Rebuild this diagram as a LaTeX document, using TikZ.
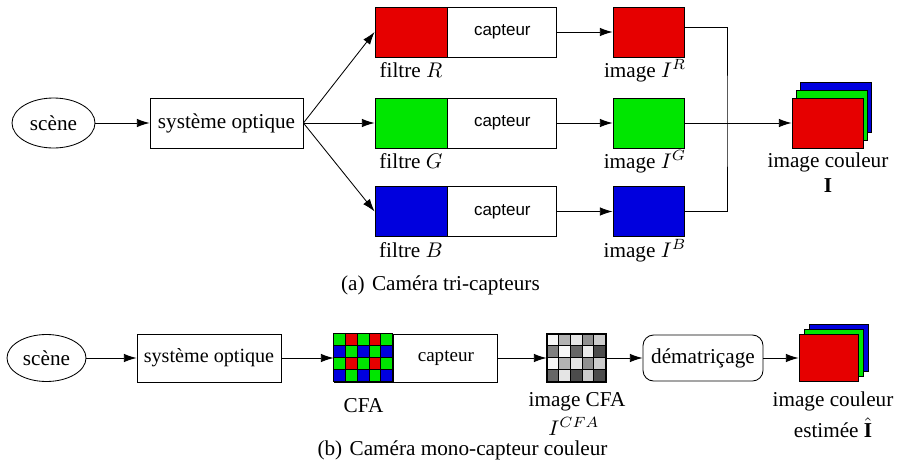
\documentclass[tikz,border=0pt]{standalone}
\usepackage{fontspec}
\setmainfont{Liberation Serif}
\setsansfont{Liberation Sans}
\usetikzlibrary{arrows.meta, positioning, shapes.geometric}

\newcommand{\pxu}{0.4717pt}
\definecolor{filtred}{RGB}{230,0,0}
\definecolor{filtgreen}{RGB}{0,230,0}
\definecolor{filtblue}{RGB}{0,0,222}

\begin{document}
\begin{tikzpicture}[x=\pxu, y=-\pxu,
    >={Latex[length=6pt,width=4pt]},
    sized/.style 2 args={minimum width=#1*\pxu, minimum height=#2*\pxu, inner sep=0pt},
    blockbox/.style={draw, rectangle},
    roundbox/.style={draw, rectangle, rounded corners=5pt},
    scenenode/.style={draw, ellipse},
    layer/.style={draw, rectangle, sized={71}{50}},
    txt/.style={anchor=base, inner sep=0pt}]
    \useasboundingbox (0,0) rectangle (897,463);
    % (a) tri-capteurs
    \node (scene) [scenenode, sized={83}{50}] at (53.5,123) {scène};
    \node (optics) [blockbox, sized={153}{50}] at (226.5,123) {système optique};

    \node (filtR) [blockbox, sized={72}{50}, fill=filtred] at (411,32) {};
    \node (captR) [blockbox, sized={109}{50}, 
        right=0pt of filtR] {\sffamily\footnotesize capteur};
    \node (imgR) [blockbox, sized={71}{50}, fill=filtred] at (648.5,32) {};

    \node (filtG) [blockbox, sized={72}{50}, fill=filtgreen] at (411,123) {};
    \node (captG) [blockbox, sized={109}{50}, 
        right=0pt of filtG] {\sffamily\footnotesize capteur};
    \node (imgG) [blockbox, sized={71}{50}, fill=filtgreen] at (648.5,123) {};

    \node (filtB) [blockbox, sized={72}{50}, fill=filtblue] at (411,211.5) {};
    \node (captB) [blockbox, sized={109}{50}, 
        right=0pt of filtB] {\sffamily\footnotesize capteur};
    \node (imgB) [blockbox, sized={71}{50}, fill=filtblue] at (648.5,211.5) {};

    \node (stkB) [layer, fill=filtblue] at (835.5,107) {};
    \node (stkG) [layer, fill=filtgreen] at (831.5,115) {};
    \node (stkR) [layer, fill=filtred] at (827.5,123) {};

    \node (lblfR) [txt] at (411,77.5) {filtre $R$};
    \node (lblfG) [txt] at (411,168.5) {filtre $G$};
    \node (lblfB) [txt] at (411,257.5) {filtre $B$};
    \node (lbliR) [txt] at (645,77.5) {image $I^R$};
    \node (lbliG) [txt] at (645,168.5) {image $I^G$};
    \node (lbliB) [txt] at (645,257.5) {image $I^B$};
    \node (lblcol) [txt] at (828,167.3) {image couleur};
    \node (lblI) [txt] at (828,192.7) {$\mathbf{I}$};
    \node (capa) [txt] at (440.4,290) {(a)\hspace{3.5pt}Caméra tri-capteurs};

    \path [->]
        (scene) edge (optics)
        (optics.east) edge (filtR.west)
        (optics.east) edge (filtG.west)
        (optics.east) edge (filtB.west)
        (captR) edge (imgR)
        (captG) edge (imgG)
        (captB) edge (imgB)
        (imgG) edge (stkR);
    \coordinate (merge) at (727,123);
    \draw ([yshift=2pt]imgR.east) -| (merge) |- (imgB.east);

    % (b) mono-capteur
    \node (scene2) [scenenode, sized={79}{47}] at (46.5,358) {scène};
    \node (optics2) [blockbox, sized={144}{48}, 
        font=\fontsize{9.5}{11}\selectfont] at (209,358) {système optique};
    \node (cfa) [blockbox, sized={59}{48}] at (363.5,358) {};
    \foreach \row [count=\r from 0] in {
        {filtgreen,filtred,filtgreen,filtred,filtgreen},
        {filtblue,filtgreen,filtblue,filtgreen,filtblue},
        {filtgreen,filtred,filtgreen,filtred,filtgreen},
        {filtblue,filtgreen,filtblue,filtgreen,filtblue}}
        \foreach \col [count=\c from 0] in \row
            \filldraw [fill=\col] (cfa.north west) ++({\c*11.8},{\r*12}) rectangle ++(11.8,12);
    \node (capt2) [blockbox, sized={104}{48}, right=0pt of cfa,
        font=\fontsize{9}{11}\selectfont] {capteur};

    \node (raw) [blockbox, sized={59}{48}] at (576.5,358) {};
    \foreach \row [count=\r from 0] in {
        {97,70,90,57,80},
        {50,97,40,92,30},
        {97,70,90,57,80},
        {40,90,30,80,30}}
        \foreach \g [count=\c from 0] in \row
            \filldraw [fill=white!\g!black] (raw.north west) ++({\c*11.8},{\r*12}) rectangle ++(11.8,12);
    \draw [line width=1pt] (raw.north west) rectangle (raw.south east);

    \node (demos) [roundbox, sized={120}{46}] at (703,358) {dématriçage};

    \node (stk2B) [layer, sized={59}{47}, fill=filtblue] at (838.5,348) {};
    \node (stk2G) [layer, sized={59}{47}, fill=filtgreen] at (833.5,353) {};
    \node (stk2R) [layer, sized={59}{47}, fill=filtred] at (828.5,358) {};

    \node (lblcfa) [txt] at (363.5,412.3) {CFA};
    \node (lblraw) [txt] at (577,406.7) {image CFA};
    \node (lblIcfa) [txt] at (574,435) {$I^{CFA}$};
    \node (lblcol2) [txt] at (833,406) {image couleur};
    \node (lblest) [txt] at (833,437.5) {estimée $\hat{\mathbf{I}}$};
    \node (capb) [txt] at (462.5,455) {(b)\hspace{3.5pt}Caméra mono-capteur couleur};

    \path [->]
        (scene2) edge (optics2)
        (optics2) edge (cfa)
        (capt2) edge (raw)
        (raw) edge (demos)
        (demos) edge (stk2R);
\end{tikzpicture}
\end{document}
